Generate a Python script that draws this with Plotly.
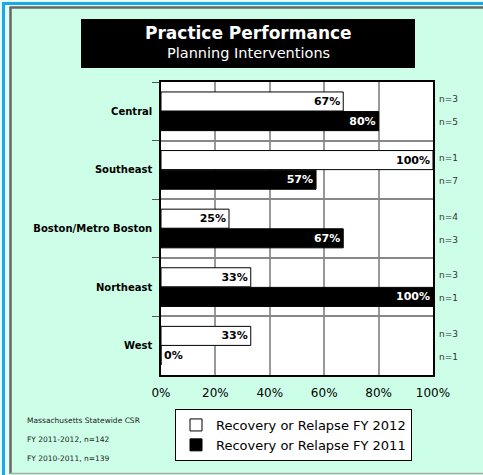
import plotly.graph_objects as go

W, H = 483, 475

regions = ["Central", "Southeast", "Boston/Metro Boston", "Northeast", "West"]
fy2012 = [67, 100, 25, 33, 33]
fy2011 = [80, 57, 67, 100, 0]
n2012 = [3, 1, 4, 3, 3]
n2011 = [5, 7, 3, 1, 1]
x_ticks = [0, 20, 40, 60, 80, 100]
series_names = ["Recovery or Relapse FY 2012", "Recovery or Relapse FY 2011"]
title_main = "Practice Performance"
title_sub = "Planning Interventions"
footnotes = ["Massachusetts Statewide CSR", "FY 2011-2012, n=142", "FY 2010-2011, n=139"]

FONT = "DejaVu Sans"
MINT = "#CDFFE8"


def px(x):
    return x / W


def py(y):
    return 1 - y / H


fig = go.Figure()

fig.add_trace(go.Bar(
    y=regions, x=fy2012, orientation="h", name=series_names[0],
    marker=dict(color="white", line=dict(color="black", width=1)),
    text=[f"<b>{v}%</b>" for v in fy2012],
    textposition="inside", insidetextanchor="end", textangle=0,
    textfont=dict(family=FONT, size=11, color="black"),
    cliponaxis=False,
))
fig.add_trace(go.Bar(
    y=regions, x=fy2011, orientation="h", name=series_names[1],
    marker=dict(color="black", line=dict(color="black", width=1)),
    text=[f"<b>{v}%</b>" for v in fy2011],
    textposition=["inside" if v > 0 else "outside" for v in fy2011],
    insidetextanchor="end", textangle=0,
    textfont=dict(family=FONT, size=11,
                  color=["white" if v > 0 else "black" for v in fy2011]),
    cliponaxis=False,
))

annotations = []
for r, a, b in zip(regions, n2012, n2011):
    annotations.append(dict(xref="paper", yref="y", x=px(437), y=r, yshift=12,
                            xanchor="left", yanchor="middle", showarrow=False,
                            text=f"n={a}", font=dict(family=FONT, size=9, color="#333")))
    annotations.append(dict(xref="paper", yref="y", x=px(437), y=r, yshift=-11,
                            xanchor="left", yanchor="middle", showarrow=False,
                            text=f"n={b}", font=dict(family=FONT, size=9, color="#333")))

annotations.append(dict(xref="paper", yref="paper", x=px(248), y=py(33),
                        xanchor="center", yanchor="middle", showarrow=False,
                        text=f"<b>{title_main}</b>",
                        font=dict(family=FONT, size=17, color="white")))
annotations.append(dict(xref="paper", yref="paper", x=px(248), y=py(53),
                        xanchor="center", yanchor="middle", showarrow=False,
                        text=title_sub,
                        font=dict(family=FONT, size=14.5, color="white")))
for i, t in enumerate(footnotes):
    annotations.append(dict(xref="paper", yref="paper", x=px(25), y=py(420 + 19 * i),
                            xanchor="left", yanchor="middle", showarrow=False,
                            text=t, font=dict(family=FONT, size=7.5, color="#222")))

shapes = [
    # light band between the outer and inner borders
    dict(type="rect", xref="paper", yref="paper", x0=0, x1=px(9),
         y0=0, y1=1, fillcolor="#E6FFF3", line=dict(width=0), layer="below"),
    dict(type="rect", xref="paper", yref="paper", x0=0, x1=1,
         y0=py(6.5), y1=1, fillcolor="#E6FFF3", line=dict(width=0), layer="below"),
    # title box
    dict(type="rect", xref="paper", yref="paper", x0=px(81), x1=px(415),
         y0=py(19), y1=py(68), fillcolor="black", line=dict(width=0), layer="below"),
    # blue outer border
    dict(type="line", xref="paper", yref="paper", x0=px(3.5), x1=px(3.5),
         y0=py(2), y1=py(475), line=dict(color="#1AA7EC", width=3)),
    dict(type="line", xref="paper", yref="paper", x0=px(2), x1=px(483),
         y0=py(3.5), y1=py(3.5), line=dict(color="#1AA7EC", width=3)),
    # gray inner border
    dict(type="line", xref="paper", yref="paper", x0=px(10.5), x1=px(10.5),
         y0=py(7), y1=py(474), line=dict(color="#666666", width=2.5)),
    dict(type="line", xref="paper", yref="paper", x0=px(9.5), x1=px(483),
         y0=py(7.5), y1=py(7.5), line=dict(color="#666666", width=2.5)),
    dict(type="line", xref="paper", yref="paper", x0=px(10), x1=px(483),
         y0=py(473.5), y1=py(473.5), line=dict(color="#aaaaaa", width=1.5)),
]

fig.update_layout(
    width=W, height=H, autosize=False,
    margin=dict(l=0, r=0, t=0, b=0, pad=0),
    paper_bgcolor=MINT, plot_bgcolor="white",
    barmode="group", bargap=0.33, bargroupgap=0.03,
    font=dict(family=FONT, color="black"),
    showlegend=True,
    legend=dict(x=px(175), y=py(409), xanchor="left", yanchor="top",
                bgcolor="white", bordercolor="black", borderwidth=1,
                font=dict(family=FONT, size=13, color="black"),
                tracegroupgap=8, traceorder="normal"),
    xaxis=dict(domain=[px(161), px(433)], range=[0, 100], automargin=False,
               tickvals=x_ticks, ticktext=[f"{v}%" for v in x_ticks],
               showgrid=True, gridcolor="#999999", gridwidth=1.5,
               showline=True, linecolor="black", linewidth=1.5, mirror=True,
               zeroline=False, ticks="", ticklabelstandoff=6,
               tickfont=dict(family=FONT, size=12, color="black"), fixedrange=True),
    yaxis=dict(domain=[py(375), py(82)], range=[4.5, -0.5], automargin=False,
               categoryorder="array", categoryarray=regions,
               tickson="boundaries", ticks="outside", ticklen=7, tickcolor="#555",
               ticklabelstandoff=5,
               showgrid=True, gridcolor="#888888", gridwidth=1.5,
               showline=True, linecolor="black", linewidth=1.5, mirror=True,
               tickfont=dict(family=FONT, size=10, color="black", weight="bold"),
               fixedrange=True),
    annotations=annotations,
    shapes=shapes,
)

for i, tr in enumerate(fig.data):
    tr.legendgroup = f"g{i}"

fig.write_html(
    "out.html",
    config={"displayModeBar": False, "responsive": False},
    post_script="document.body.style.margin='0';document.body.style.overflow='hidden';",
)
